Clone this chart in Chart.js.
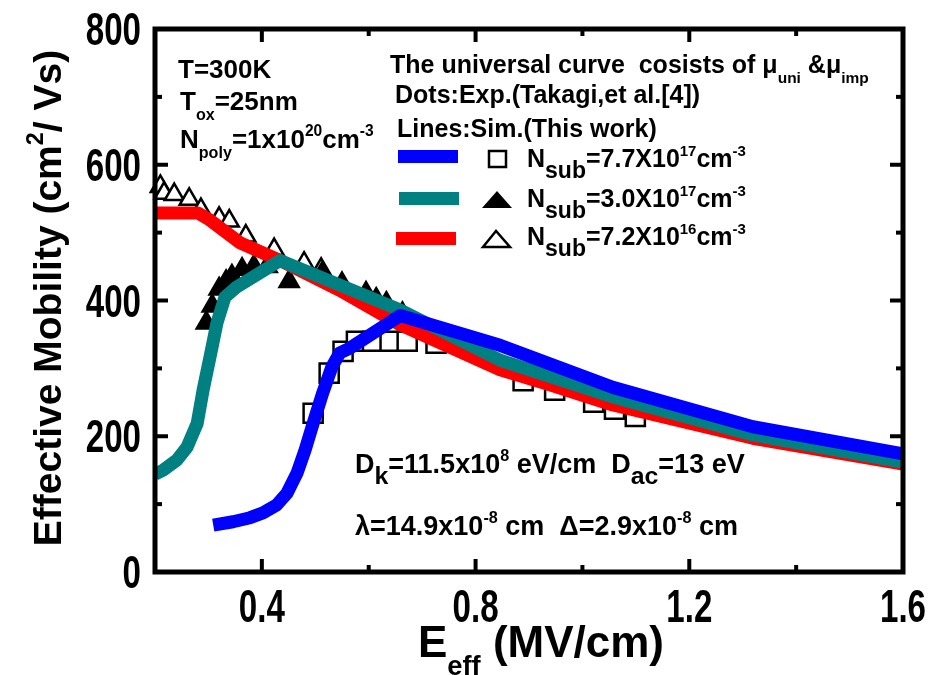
<!DOCTYPE html>
<html lang="en">
<head>
<meta charset="UTF-8">
<title>Effective Mobility vs Eeff</title>
<script src="https://cdn.jsdelivr.net/npm/chart.js@4.4.1/dist/chart.umd.min.js"></script>
<style>
  body { margin: 0; background: #fff; }
  #wrap { width: 933px; height: 675px; }
</style>
</head>
<body>
<div id="wrap"><canvas id="chart"></canvas></div>
<script>
// simulated curves (lines), E_eff in MV/cm, mobility in cm2/Vs
const simBlueE   = [0.309, 0.346, 0.378, 0.402, 0.428, 0.447, 0.466, 0.481, 0.496, 0.514, 0.531, 0.546, 0.565, 0.659, 0.846, 1.057, 1.319, 1.6];
const simBlueMu  = [69, 74, 80, 87, 99, 116, 146, 180, 219, 264, 302, 323, 330, 378, 334, 272, 214, 174];
const simTealE   = [0.2, 0.215, 0.241, 0.26, 0.279, 0.29, 0.303, 0.316, 0.331, 0.353, 0.434, 0.659, 0.846, 1.057, 1.319, 1.6];
const simTealMu  = [144, 150, 165, 184, 219, 268, 317, 367, 405, 420, 459, 386, 312, 258, 202, 162];
const simRedE    = [0.2, 0.28, 0.3, 0.359, 0.434, 0.546, 0.659, 0.846, 0.939, 1.057, 1.319, 1.6];
const simRedMu   = [529, 529, 520, 485, 459, 415, 364, 298, 276, 246, 197, 159];

// experimental dots (Takagi et al.)
const expSquareE  = [0.496, 0.526, 0.552, 0.577, 0.607, 0.64, 0.672, 0.726, 0.889, 0.948, 1.021, 1.06, 1.099];
const expSquareMu = [234, 293, 325, 340, 340, 340, 340, 337, 282, 268, 250, 240, 229];
const expFilledE  = [0.296, 0.307, 0.32, 0.333, 0.344, 0.363, 0.385, 0.41, 0.451, 0.513, 0.55, 0.595, 0.614, 0.633, 0.663];
const expFilledMu = [367, 392, 417, 428, 436, 446, 450, 450, 428, 440, 425, 411, 402, 396, 381];
const expOpenE    = [0.21, 0.217, 0.236, 0.264, 0.286, 0.32, 0.339, 0.37, 0.423, 0.479, 0.511];
const expOpenMu   = [568, 558, 556, 549, 534, 521, 517, 495, 475, 455, 446];

// axes
const xTickVals   = [0.4, 0.8, 1.2, 1.6];
const xTickLabels = ['0.4', '0.8', '1.2', '1.6'];
const xMinorVals  = [0.6, 1.0, 1.4];
const yTickVals   = [0, 200, 400, 600, 800];
const yTickLabels = ['0', '200', '400', '600', '800'];
const yMinorVals  = [100, 300, 500, 700];

const pts = (xs, ys) => xs.map((x, i) => ({ x: x, y: ys[i] }));

const SANS = "'Liberation Sans', Arial, sans-serif";

// draw text with sub/superscript pieces
function rich(ctx, x, y, parts, size) {
    let cx = x;
    for (const p of parts) {
        const t = typeof p === 'string' ? p : p[0];
        const m = typeof p === 'string' ? 'n' : p[1];
        let fs = size, dy = 0;
        if (m === 'sub') { fs = size * 0.62; dy = size * 0.4; }
        if (m === 'sub2') { fs = size * 0.92; dy = size * 0.42; }
        if (m === 'sup') { fs = size * 0.6; dy = -size * 0.45; }
        ctx.font = 'bold ' + fs + 'px ' + SANS;
        ctx.fillText(t, cx, y + dy);
        cx += ctx.measureText(t).width;
    }
    return cx - x;
}

function richWidth(ctx, parts, size) {
    let w = 0;
    for (const p of parts) {
        const t = typeof p === 'string' ? p : p[0];
        const m = typeof p === 'string' ? 'n' : p[1];
        let fs = size;
        if (m === 'sub') fs = size * 0.62;
        if (m === 'sub2') fs = size * 0.92;
        if (m === 'sup') fs = size * 0.6;
        ctx.font = 'bold ' + fs + 'px ' + SANS;
        w += ctx.measureText(t).width;
    }
    return w;
}

// tall narrow tick numbers like the original figure
function narrowText(ctx, txt, x, y, align) {
    ctx.save();
    ctx.translate(x, y);
    ctx.scale(0.72, 1);
    ctx.font = 'bold 46px ' + SANS;
    ctx.textAlign = align;
    ctx.textBaseline = 'alphabetic';
    ctx.fillText(txt, 0, 0);
    ctx.restore();
}

const framePlugin = {
    id: 'frame',
    afterDraw(chart) {
        const ctx = chart.ctx;
        const a = chart.chartArea;
        const xs = chart.scales.x, ys = chart.scales.y;
        ctx.save();
        ctx.strokeStyle = '#000';
        ctx.fillStyle = '#000';
        // inward ticks on all four sides
        ctx.lineWidth = 4;
        const tick = (x1, y1, x2, y2) => { ctx.beginPath(); ctx.moveTo(x1, y1); ctx.lineTo(x2, y2); ctx.stroke(); };
        xTickVals.forEach(v => { const p = xs.getPixelForValue(v); tick(p, a.bottom, p, a.bottom - 13); tick(p, a.top, p, a.top + 13); });
        xMinorVals.forEach(v => { const p = xs.getPixelForValue(v); tick(p, a.bottom, p, a.bottom - 7); tick(p, a.top, p, a.top + 7); });
        yTickVals.forEach(v => { const p = ys.getPixelForValue(v); tick(a.left, p, a.left + 13, p); tick(a.right, p, a.right - 13, p); });
        yMinorVals.forEach(v => { const p = ys.getPixelForValue(v); tick(a.left, p, a.left + 7, p); tick(a.right, p, a.right - 7, p); });
        ctx.lineWidth = 5;
        ctx.strokeRect(a.left, a.top, a.right - a.left, a.bottom - a.top);

        // tick labels from the scales
        xTickVals.forEach((v, i) => narrowText(ctx, xTickLabels[i], xs.getPixelForValue(v), a.bottom + 50, 'center'));
        yTickVals.forEach((v, i) => narrowText(ctx, yTickLabels[i], a.left - 14, ys.getPixelForValue(v) + 16, 'right'));

        // text inside the plot
        ctx.textAlign = 'left';
        ctx.textBaseline = 'alphabetic';
        rich(ctx, 178, 78, ['T=300K'], 26);
        rich(ctx, 180, 110, ['T', ['ox', 'sub'], '=25nm'], 26);
        rich(ctx, 180, 148, ['N', ['poly', 'sub'], '=1x10', ['20', 'sup'], 'cm', ['-3', 'sup']], 26);

        rich(ctx, 390, 73, ['The universal curve  cosists of \u03bc', ['uni', 'sub'], ' &\u03bc', ['imp', 'sub']], 25);
        rich(ctx, 395, 103, ['Dots:Exp.(Takagi,et al.[4])'], 25);
        rich(ctx, 397, 137, ['Lines:Sim.(This work)'], 25);

        // legend rows
        ctx.fillStyle = '#0000ff'; ctx.fillRect(398, 150, 60, 13);
        ctx.fillStyle = '#008080'; ctx.fillRect(399, 192, 60, 13);
        ctx.fillStyle = '#ff0000'; ctx.fillRect(396, 232, 60, 13);
        ctx.lineWidth = 2.5;
        ctx.fillStyle = '#fff'; ctx.fillRect(489, 151, 17, 16);
        ctx.strokeRect(489, 151, 17, 16);
        ctx.fillStyle = '#000';
        ctx.beginPath(); ctx.moveTo(497, 191); ctx.lineTo(482, 208); ctx.lineTo(512, 208); ctx.closePath(); ctx.fill();
        ctx.beginPath(); ctx.moveTo(496, 231); ctx.lineTo(483, 247); ctx.lineTo(510, 247); ctx.closePath();
        ctx.fillStyle = '#fff'; ctx.fill(); ctx.stroke();
        ctx.fillStyle = '#000';
        rich(ctx, 527, 167, ['N', ['sub', 'sub2'], '=7.7X10', ['17', 'sup'], 'cm', ['-3', 'sup']], 25);
        rich(ctx, 527, 207, ['N', ['sub', 'sub2'], '=3.0X10', ['17', 'sup'], 'cm', ['-3', 'sup']], 25);
        rich(ctx, 527, 245, ['N', ['sub', 'sub2'], '=7.2X10', ['16', 'sup'], 'cm', ['-3', 'sup']], 25);

        rich(ctx, 355, 473, ['D', ['k', 'sub2'], '=11.5x10', ['8', 'sup'], ' eV/cm  D', ['ac', 'sub2'], '=13 eV'], 27);
        rich(ctx, 355, 535, ['\u03bb=14.9x10', ['-8', 'sup'], ' cm  \u0394=2.9x10', ['-8', 'sup'], ' cm'], 27);

        // axis titles
        rich(ctx, 418, 657, ['E', ['eff', 'sub'], ' (MV/cm)'], 44);
        const yt = ['Effective Mobility (cm', ['2', 'sup'], '/ Vs)'];
        const w = richWidth(ctx, yt, 39);
        ctx.translate(61, 298);
        ctx.rotate(-Math.PI / 2);
        rich(ctx, -w / 2, 0, yt, 39);
        ctx.restore();
    }
};

const lineSet = (label, xs, ys, color, order) => ({
    label: label,
    data: pts(xs, ys),
    showLine: true,
    borderColor: color,
    backgroundColor: color,
    borderWidth: 13,
    borderJoinStyle: 'round',
    pointRadius: 0,
    tension: 0,
    fill: false,
    clip: 0,
    order: order
});

const dotSet = (label, xs, ys, style, fillColor, radius, order) => ({
    label: label,
    data: pts(xs, ys),
    showLine: false,
    pointStyle: style,
    pointRadius: radius,
    pointBackgroundColor: fillColor,
    pointBorderColor: '#000',
    pointBorderWidth: 2.5,
    clip: false,
    order: order
});

new Chart(document.getElementById('chart'), {
    type: 'scatter',
    data: {
        datasets: [
            lineSet('Sim Nsub=7.7e17', simBlueE, simBlueMu, '#0000ff', 0),
            lineSet('Sim Nsub=3.0e17', simTealE, simTealMu, '#008080', 1),
            lineSet('Sim Nsub=7.2e16', simRedE, simRedMu, '#ff0000', 2),
            dotSet('Exp Nsub=7.7e17', expSquareE, expSquareMu, 'rect', '#fff', 13.5, 3),
            dotSet('Exp Nsub=3.0e17', expFilledE, expFilledMu, 'triangle', '#000', 11, 4),
            dotSet('Exp Nsub=7.2e16', expOpenE, expOpenMu, 'triangle', '#fff', 11, 5)
        ]
    },
    options: {
        responsive: true,
        maintainAspectRatio: false,
        animation: false,
        events: [],
        layout: { autoPadding: false, padding: { left: 0, right: 30, top: 29, bottom: 0 } },
        plugins: { legend: { display: false }, tooltip: { enabled: false } },
        scales: {
            x: {
                type: 'linear',
                min: 0.2,
                max: 1.6,
                afterBuildTicks: s => { s.ticks = xTickVals.map(v => ({ value: v })); },
                afterFit: s => { s.height = 103; s.paddingLeft = 0; s.paddingRight = 0; },
                grid: { display: false, drawTicks: false },
                border: { display: false },
                ticks: { display: false }
            },
            y: {
                min: 0,
                max: 800,
                afterBuildTicks: s => { s.ticks = yTickVals.map(v => ({ value: v })); },
                afterFit: s => { s.width = 155; s.paddingTop = 0; s.paddingBottom = 0; },
                grid: { display: false, drawTicks: false },
                border: { display: false },
                ticks: { display: false }
            }
        }
    },
    plugins: [framePlugin]
});
</script>
</body>
</html>
